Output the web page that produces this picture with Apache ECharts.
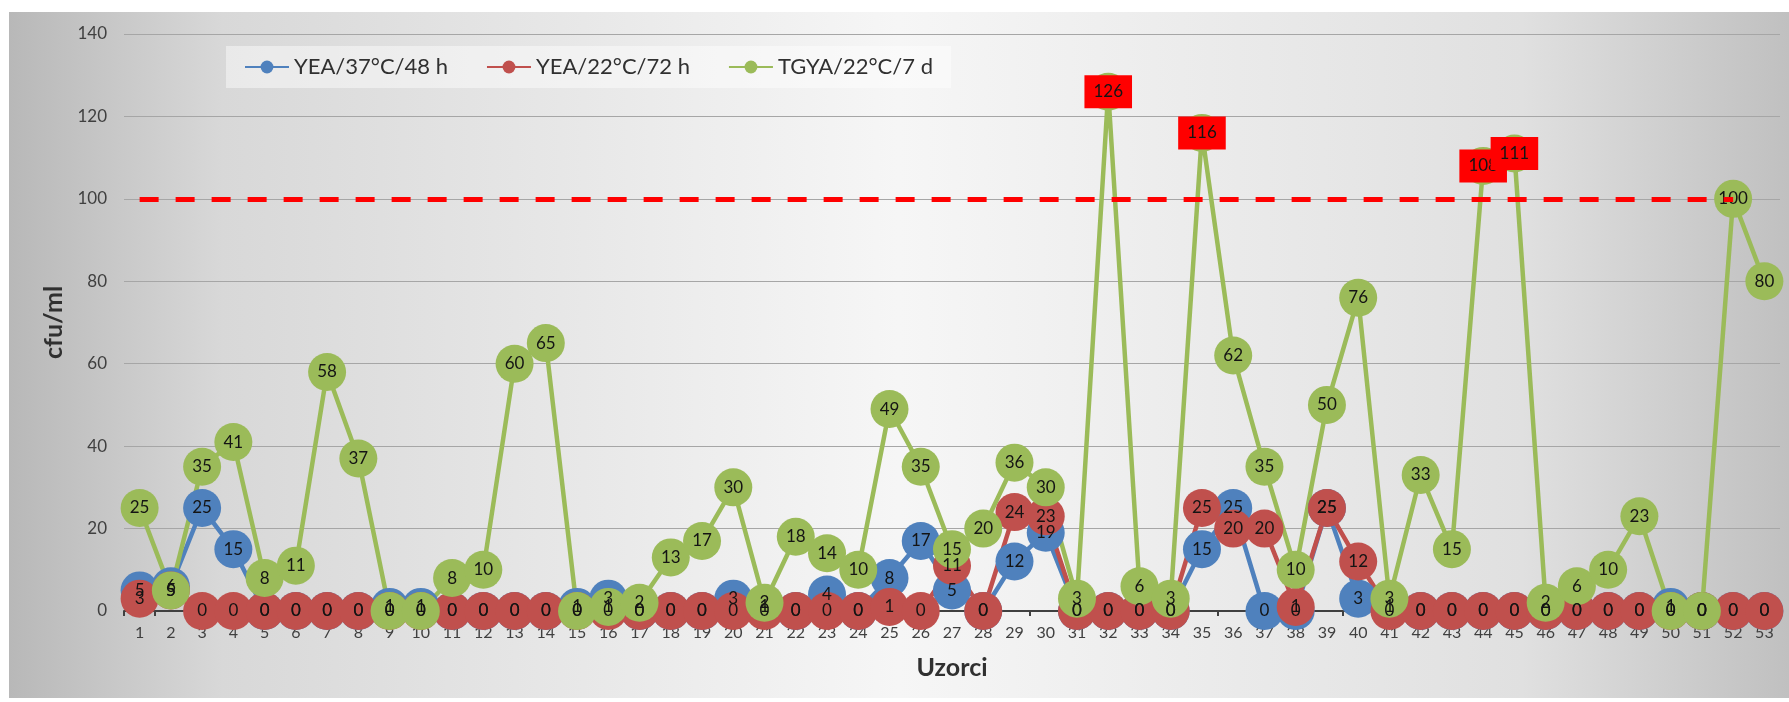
<!DOCTYPE html>
<html>
<head>
<meta charset="utf-8">
<script src="https://cdn.jsdelivr.net/npm/echarts@6/dist/echarts.min.js"></script>
<style>
  html, body { margin: 0; padding: 0; background: #fff; }
  #chart { width: 1789px; height: 702px; }
</style>
</head>
<body>
<div id="chart"></div>
<script>
// samples 1..53
var categories = ['1','2','3','4','5','6','7','8','9','10','11','12','13','14','15','16','17','18','19','20',
    '21','22','23','24','25','26','27','28','29','30','31','32','33','34','35','36','37','38','39','40',
    '41','42','43','44','45','46','47','48','49','50','51','52','53'];

var seriesNames = ['YEA/37°C/48 h', 'YEA/22°C/72 h', 'TGYA/22°C/7 d'];

var yea37 = [5, 6, 25, 15, 0, 0, 0, 0, 1, 1, 0, 0, 0, 0, 1, 3, 0, 0, 0, 3,
    1, 0, 4, 0, 8, 17, 5, 0, 12, 19, 0, 0, 0, 0, 15, 25, 0, 0, 25, 3,
    1, 0, 0, 0, 0, 0, 0, 0, 0, 1, 0, 0, 0];

var yea22 = [3, 5, 0, 0, 0, 0, 0, 0, 0, 0, 0, 0, 0, 0, 0, 0, 0, 0, 0, 0,
    0, 0, 0, 0, 1, 0, 11, 0, 24, 23, 0, 0, 0, 0, 25, 20, 20, 1, 25, 12,
    0, 0, 0, 0, 0, 0, 0, 0, 0, 0, 0, 0, 0];

var tgya22 = [25, 5, 35, 41, 8, 11, 58, 37, 0, 0, 8, 10, 60, 65, 0, 1, 2, 13, 17, 30,
    2, 18, 14, 10, 49, 35, 15, 20, 36, 30, 3, 126, 6, 3, 116, 62, 35, 10, 50, 76,
    3, 33, 15, 108, 111, 2, 6, 10, 23, 0, 0, 100, 80];

var limitValue = 100;
var limitFrom = '1', limitTo = '52';
var yTicks = { min: 0, max: 140, interval: 20 };

var colors = ['#4f81bd', '#c0504d', '#9bbb59'];
var font = 'Lato, "Open Sans", sans-serif';

// values over the limit get a red box label
function greenData() {
    var out = [];
    for (var i = 0; i < tgya22.length; i++) {
        var v = tgya22[i];
        if (v > limitValue) {
            out.push({
                value: v,
                label: {
                    backgroundColor: '#ff0000',
                    padding: [8, 9, 8, 9]
                }
            });
        } else {
            out.push(v);
        }
    }
    return out;
}

function makeSeries(name, data, color) {
    return {
        name: name,
        type: 'line',
        data: data,
        symbol: 'circle',
        symbolSize: 38,
        showAllSymbol: true,
        lineStyle: { color: color, width: 4.5 },
        itemStyle: { color: color },
        label: {
            show: true,
            position: 'inside',
            color: '#141414',
            fontFamily: font,
            fontSize: 17
        },
        emphasis: { disabled: true },
        animation: false
    };
}

var series = [
    makeSeries(seriesNames[0], yea37, colors[0]),
    makeSeries(seriesNames[1], yea22, colors[1]),
    makeSeries(seriesNames[2], greenData(), colors[2])
];

series[0].markLine = {
    silent: true,
    symbol: 'none',
    label: { show: false },
    lineStyle: { color: '#ff0000', width: 5, type: [19, 17], opacity: 1 },
    data: [[{ coord: [limitFrom, limitValue] }, { coord: [limitTo, limitValue] }]]
};

var myChart = echarts.init(document.getElementById('chart'));
var option = {
    animation: false,
    graphic: [{
        type: 'rect',
        z: -10,
        silent: true,
        shape: { x: 9, y: 12, width: 1780, height: 686 },
        style: {
            fill: new echarts.graphic.LinearGradient(0, 0, 1, 0, [
                { offset: 0, color: '#b8b8b8' },
                { offset: 0.12, color: '#d8d8d8' },
                { offset: 0.5, color: '#f6f6f6' },
                { offset: 0.85, color: '#e0e0e0' },
                { offset: 1, color: '#c0c0c0' }
            ])
        }
    }],
    legend: {
        left: 226,
        top: 46,
        padding: [10, 18],
        backgroundColor: 'rgba(255,255,255,0.45)',
        itemWidth: 44,
        itemHeight: 16,
        itemGap: 38,
        textStyle: { fontFamily: font, fontSize: 22, color: '#303030' },
        data: seriesNames
    },
    grid: { left: 124, right: 9, top: 34, bottom: 91 },
    xAxis: {
        type: 'category',
        data: categories,
        boundaryGap: true,
        name: 'Uzorci',
        nameLocation: 'middle',
        nameGap: 44,
        nameTextStyle: { fontFamily: font, fontSize: 25, fontWeight: 'bold', color: '#303030' },
        axisLine: { lineStyle: { color: '#404040', width: 2 } },
        axisTick: { show: true, length: 5, lineStyle: { color: '#404040', width: 2 } },
        axisLabel: { fontFamily: font, fontSize: 16, color: '#404040', margin: 14, interval: 0 }
    },
    yAxis: {
        type: 'value',
        min: yTicks.min,
        max: yTicks.max,
        interval: yTicks.interval,
        name: 'cfu/ml',
        nameLocation: 'middle',
        nameGap: 58,
        nameRotate: 90,
        nameTextStyle: { fontFamily: font, fontSize: 25, fontWeight: 'bold', color: '#303030' },
        axisLine: { show: false },
        axisTick: { show: false },
        axisLabel: { fontFamily: font, fontSize: 17, color: '#404040', margin: 17 },
        splitLine: { lineStyle: { color: '#a6a6a6', width: 1 } }
    },
    series: series
};
myChart.setOption(option);
</script>
</body>
</html>
